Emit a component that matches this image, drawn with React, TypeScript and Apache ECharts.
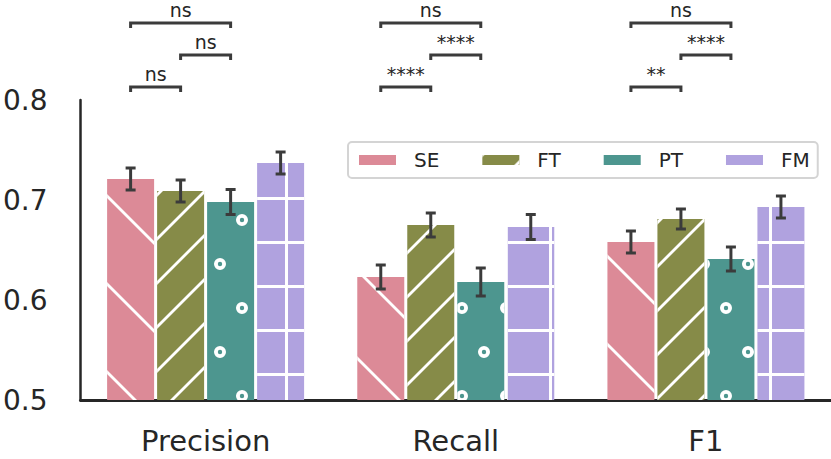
import React, { useEffect, useRef } from 'react';
import * as echarts from 'echarts';

// ---------------- data ----------------
const categories = ['Precision', 'Recall', 'F1'];
const methods = ['SE', 'FT', 'PT', 'FM'];

const seMeans = [0.721, 0.623, 0.658];
const ftMeans = [0.709, 0.675, 0.681];
const ptMeans = [0.698, 0.618, 0.641];
const fmMeans = [0.737, 0.673, 0.693];

const seErrors = [0.011, 0.012, 0.011];
const ftErrors = [0.011, 0.012, 0.010];
const ptErrors = [0.0125, 0.014, 0.012];
const fmErrors = [0.011, 0.0125, 0.011];

const yTickLabels = ['0.5', '0.6', '0.7', '0.8'];

// pairs of method indices compared inside each category
const comparisonPairs = [
  [0, 1],
  [1, 2],
  [0, 2],
];
const precisionStars = ['ns', 'ns', 'ns'];
const recallStars = ['****', '****', 'ns'];
const f1Stars = ['**', '****', 'ns'];

const meansByMethod = [seMeans, ftMeans, ptMeans, fmMeans];
const errorsByMethod = [seErrors, ftErrors, ptErrors, fmErrors];
const starsByCategory = [precisionStars, recallStars, f1Stars];

// ---------------- styles ----------------
const COLORS = ['#dc8a97', '#868b48', '#4d968f', '#b0a2df'];
const FONT = "'DejaVu Sans', sans-serif";
const TEXT = '#262626';
const DARK = '#3b3b3b';
const BAR_W = 47;
const BAR_STEP = 50;
const BRACKET_LEVELS = [0.813, 0.845, 0.877];
const BRACKET_TICK = 0.005;

// hatch tiles (white marks), anchored to the page origin
const seHatch =
  'path://M0,0 L1,0 L88,87 L88,88 L85,88 L0,3 Z M0,87 L1,88 L0,88 Z M85,0 L88,0 L88,3 Z';
const ftHatch =
  'path://M0,42 L42,0 L44,0 L44,2 L2,44 L0,44 Z M0,0 L2,0 L0,2 Z M44,42 L44,44 L42,44 Z';
const RO = 6;
const RI = 2.2;
function fullRing(cx: number, cy: number) {
  return (
    `M${cx + RO},${cy} A${RO},${RO} 0 1 1 ${cx - RO},${cy} A${RO},${RO} 0 1 1 ${cx + RO},${cy} Z ` +
    `M${cx + RI},${cy} A${RI},${RI} 0 1 0 ${cx - RI},${cy} A${RI},${RI} 0 1 0 ${cx + RI},${cy} Z`
  );
}
const ptHatch =
  'path://' +
  fullRing(22, 44) +
  ` M${RO},0 A${RO},${RO} 0 0 1 0,${RO} L0,${RI} A${RI},${RI} 0 0 0 ${RI},0 Z` +
  ` M44,${RO} A${RO},${RO} 0 0 1 ${44 - RO},0 L${44 - RI},0 A${RI},${RI} 0 0 0 44,${RI} Z` +
  ` M0,${88 - RO} A${RO},${RO} 0 0 1 ${RO},88 L${RI},88 A${RI},${RI} 0 0 0 0,${88 - RI} Z` +
  ` M${44 - RO},88 A${RO},${RO} 0 0 1 44,${88 - RO} L44,${88 - RI} A${RI},${RI} 0 0 0 ${44 - RI},88 Z`;
const fmHatch = 'path://M0,21 L44,21 L44,24 L0,24 Z M21,0 L24,0 L24,44 L21,44 Z';

const DECALS: any[] = [
  { symbol: seHatch, symbolSize: 1, dashArrayX: [88, 0], dashArrayY: [88, 0], color: '#ffffff' },
  { symbol: ftHatch, symbolSize: 1, dashArrayX: [44, 0], dashArrayY: [44, 0], color: '#ffffff' },
  { symbol: ptHatch, symbolSize: 1, dashArrayX: [44, 0], dashArrayY: [88, 0], color: '#ffffff' },
  { symbol: fmHatch, symbolSize: 1, dashArrayX: [44, 0], dashArrayY: [44, 0], color: '#ffffff' },
];

export default function App() {
  const ref = useRef<HTMLDivElement>(null);

  useEffect(() => {
    if (!ref.current) return;
    const chart = echarts.init(ref.current, null, { renderer: 'svg' });

    const barSeries = methods.map((name, i) => ({
      name,
      type: 'bar',
      data: meansByMethod[i],
      barWidth: BAR_W,
      barGap: '6.38%',
      itemStyle: { color: COLORS[i], decal: DECALS[i] },
      emphasis: { disabled: true },
      z: 2,
    }));

    const errData: number[][] = [];
    categories.forEach((_, ci) => {
      methods.forEach((__, mi) => {
        errData.push([ci, mi, meansByMethod[mi][ci], errorsByMethod[mi][ci]]);
      });
    });

    const bracketData: number[][] = [];
    categories.forEach((_, ci) => {
      comparisonPairs.forEach((__, pi) => {
        bracketData.push([ci, pi, BRACKET_LEVELS[pi]]);
      });
    });

    const option: any = {
      animation: false,
      grid: { left: 77, right: 0, top: 100, bottom: 59, containLabel: false },
      legend: {
        data: [
          { name: 'SE', itemStyle: { decal: 'none' } },
          { name: 'FT' },
          { name: 'PT', itemStyle: { decal: 'none' } },
          { name: 'FM', itemStyle: { decal: 'none' } },
        ],
        left: 348,
        top: 142,
        icon: 'rect',
        itemWidth: 37,
        itemHeight: 10,
        itemGap: 43,
        padding: [8, 8, 8, 11],
        borderColor: '#d4d4d4',
        borderWidth: 2,
        borderRadius: 4,
        backgroundColor: '#ffffff',
        selectedMode: false,
        textStyle: { fontSize: 20, fontFamily: FONT, color: TEXT, padding: [0, 0, 0, 13] },
      },
      xAxis: {
        type: 'category',
        data: categories,
        axisTick: { show: false },
        axisLine: { show: true, lineStyle: { color: TEXT, width: 3 } },
        axisLabel: { fontSize: 29, fontFamily: FONT, color: TEXT, margin: 26 },
        splitLine: { show: false },
      },
      yAxis: {
        type: 'value',
        min: 0.5,
        max: 0.8,
        interval: 0.1,
        axisTick: { show: false },
        axisLine: { show: true, lineStyle: { color: TEXT, width: 2.5 } },
        splitLine: { show: false },
        axisLabel: {
          fontSize: 28,
          fontFamily: FONT,
          color: TEXT,
          margin: 33,
          formatter: (v: number) => {
            const idx = Math.round((v - 0.5) / 0.1);
            return yTickLabels[idx] ?? v.toFixed(1);
          },
        },
      },
      series: [
        ...barSeries,
        {
          type: 'custom',
          name: 'errors',
          data: errData,
          encode: { x: 0, y: 2 },
          silent: true,
          z: 5,
          renderItem: (params: any, api: any) => {
            const ci = api.value(0);
            const mi = api.value(1);
            const m = api.value(2);
            const e = api.value(3);
            const x = api.coord([ci, m])[0] + (mi - 1.5) * BAR_STEP;
            const yT = api.coord([ci, m + e])[1];
            const yB = api.coord([ci, m - e])[1];
            const st = { stroke: DARK, lineWidth: 3 };
            return {
              type: 'group',
              children: [
                { type: 'line', shape: { x1: x, y1: yT, x2: x, y2: yB }, style: st },
                { type: 'line', shape: { x1: x - 5, y1: yT, x2: x + 5, y2: yT }, style: st },
                { type: 'line', shape: { x1: x - 5, y1: yB, x2: x + 5, y2: yB }, style: st },
              ],
            };
          },
        },
        {
          type: 'custom',
          name: 'brackets',
          data: bracketData,
          encode: { x: 0, y: 2 },
          silent: true,
          clip: false,
          z: 5,
          renderItem: (params: any, api: any) => {
            const ci = api.value(0);
            const pi = api.value(1);
            const lvl = api.value(2);
            const [a, b] = comparisonPairs[pi];
            const c = api.coord([ci, lvl]);
            const x1 = c[0] + (a - 1.5) * BAR_STEP;
            const x2 = c[0] + (b - 1.5) * BAR_STEP;
            const yb = c[1];
            const yt = api.coord([ci, lvl - BRACKET_TICK])[1];
            return {
              type: 'group',
              children: [
                {
                  type: 'polyline',
                  shape: { points: [[x1, yt], [x1, yb], [x2, yb], [x2, yt]] },
                  style: { stroke: DARK, lineWidth: 3, fill: null, lineJoin: 'miter' },
                },
                {
                  type: 'text',
                  style: {
                    x: (x1 + x2) / 2,
                    y: yb - 4,
                    text: starsByCategory[ci][pi],
                    fontSize: 19,
                    fontFamily: FONT,
                    fill: TEXT,
                    align: 'center',
                    verticalAlign: 'bottom',
                  },
                },
              ],
            };
          },
        },
      ],
    };

    chart.setOption(option);
    return () => chart.dispose();
  }, []);

  return (
    <div
      ref={ref}
      style={{ position: 'fixed', left: 0, top: 0, width: 831, height: 459, background: '#ffffff' }}
    />
  );
}
